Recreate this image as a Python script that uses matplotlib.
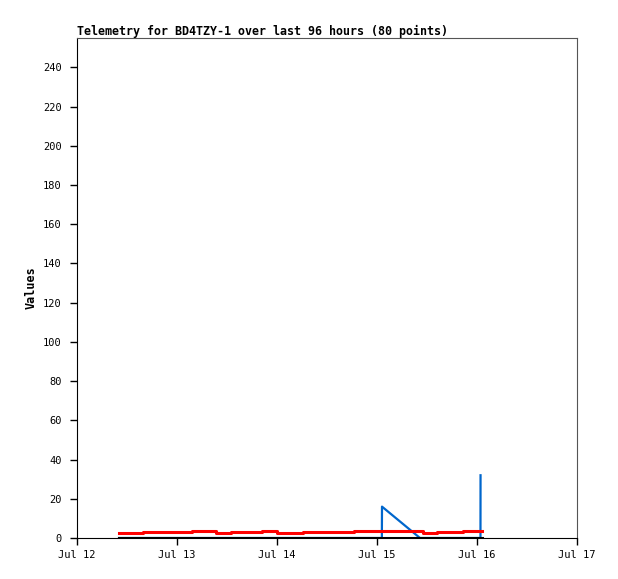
import matplotlib.pyplot as plt
import matplotlib.dates as mdates
import datetime as dt

# red series: step values (time, value)
red_times = ["2024-07-12 10:05", "2024-07-12 15:50", "2024-07-13 03:36", "2024-07-13 09:22",
             "2024-07-13 12:58", "2024-07-13 20:24", "2024-07-14 00:00", "2024-07-14 06:14",
             "2024-07-14 18:29", "2024-07-15 11:02", "2024-07-15 14:24", "2024-07-15 20:38",
             "2024-07-16 01:12"]
red_values = [2.6, 3.0, 3.6, 2.6, 3.0, 3.6, 2.6, 3.0, 3.6, 2.6, 3.0, 3.6, 3.6]

# blue series
blue_times = ["2024-07-12 10:05", "2024-07-15 01:10", "2024-07-15 01:12", "2024-07-15 10:19",
              "2024-07-16 00:50", "2024-07-16 00:51"]
blue_values = [0, 0, 16, 0, 0, 32]

# black series (flat at zero)
black_times = ["2024-07-12 10:05", "2024-07-16 01:12"]
black_values = [0, 0]

x_ticks = ["2024-07-12", "2024-07-13", "2024-07-14", "2024-07-15", "2024-07-16", "2024-07-17"]
y_ticks = list(range(0, 241, 20))


def to_dates(lst):
    out = []
    for s in lst:
        if len(s) > 10:
            out.append(dt.datetime.strptime(s, "%Y-%m-%d %H:%M"))
        else:
            out.append(dt.datetime.strptime(s, "%Y-%m-%d"))
    return out


mono = "DejaVu Sans Mono"
fig = plt.figure(figsize=(6.18, 5.79), dpi=100)
ax = fig.add_axes([77 / 618, 41 / 579, 500 / 618, 500 / 579])

ax.plot(to_dates(blue_times), blue_values, color="#0066cc", lw=1.6, zorder=2)
ax.plot(to_dates(red_times), red_values, color="#ff0000", lw=2.2, drawstyle="steps-post", zorder=3)
ax.plot(to_dates(black_times), black_values, color="black", lw=2.2, zorder=4)

xt = to_dates(x_ticks)
ax.set_xlim(xt[0], xt[-1])
ax.set_ylim(0, 255)
ax.set_xticks(xt)
ax.xaxis.set_major_formatter(mdates.DateFormatter("%b %d"))
ax.set_yticks(y_ticks)

ax.tick_params(direction="out", length=5, width=1, colors="black", labelsize=7.5)
ax.tick_params(axis="x", pad=4)
ax.tick_params(axis="y", pad=6)
for lab in ax.get_xticklabels() + ax.get_yticklabels():
    lab.set_family(mono)

for side in ["top", "right"]:
    ax.spines[side].set_color("#555555")
for side in ["left", "bottom"]:
    ax.spines[side].set_color("black")

ax.set_ylabel("Values", family=mono, fontsize=8.5, fontweight="bold", labelpad=4)
ax.set_title("Telemetry for BD4TZY-1 over last 96 hours (80 points)", loc="left",
             family=mono, fontsize=8.35, fontweight="bold", pad=2)

fig.savefig("out.png", dpi=100)
